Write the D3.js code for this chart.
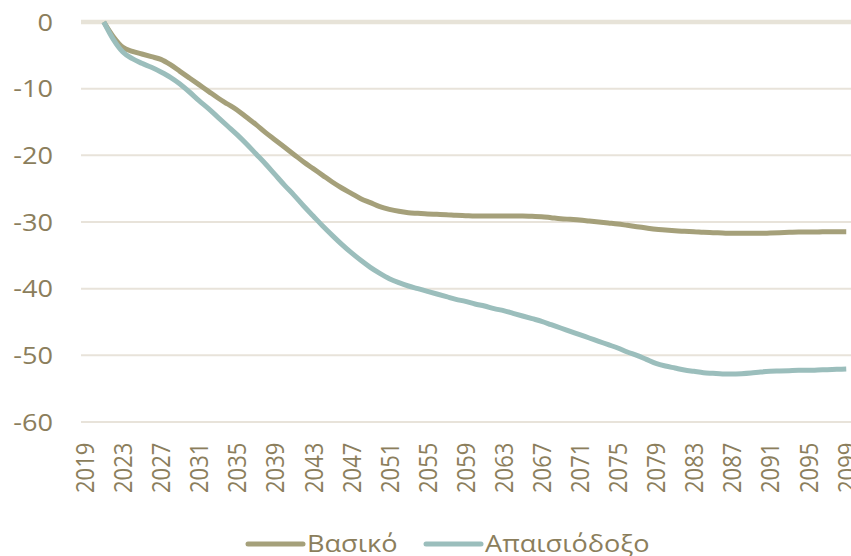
<!DOCTYPE html>
<html>
<head>
<meta charset="utf-8">
<script src="https://cdn.jsdelivr.net/npm/d3@7"></script>
<style>
  html, body { margin: 0; padding: 0; background: #ffffff; }
  svg { display: block; font-family: "Open Sans", "Noto Sans", sans-serif; }
</style>
</head>
<body>
<svg id="chart" width="851" height="556"></svg>
<script>
// ---- Data ----
const years = d3.range(2019, 2100);
const seriesNames = ["Βασικό", "Απαισιόδοξο"];
const yTicks = [0, -10, -20, -30, -40, -50, -60];
const xTickYears = d3.range(2019, 2100, 4);

// values for 2021..2099 (2019, 2020 empty)
const basicValues = [
  0, -2.2, -3.8, -4.4, -4.8, -5.2, -5.6, -6.4, -7.4, -8.4,
  -9.4, -10.4, -11.4, -12.3, -13.2, -14.3, -15.4, -16.6, -17.7, -18.8,
  -19.9, -21.0, -22.0, -23.0, -24.0, -24.9, -25.7, -26.5, -27.1, -27.7,
  -28.1, -28.4, -28.6, -28.7, -28.8, -28.85, -28.9, -29.0, -29.05, -29.1,
  -29.1, -29.1, -29.1, -29.1, -29.1, -29.15, -29.2, -29.35, -29.5, -29.6,
  -29.7, -29.85, -30.0, -30.15, -30.3, -30.5, -30.7, -30.9, -31.1, -31.2,
  -31.3, -31.4, -31.45, -31.55, -31.6, -31.65, -31.7, -31.7, -31.7, -31.7,
  -31.65, -31.6, -31.55, -31.5, -31.5, -31.5, -31.45, -31.45, -31.45
];
const pessimisticValues = [
  0, -2.6, -4.5, -5.5, -6.2, -6.8, -7.5, -8.3, -9.3, -10.5,
  -11.8, -13.0, -14.3, -15.6, -16.9, -18.3, -19.8, -21.3, -22.9, -24.5,
  -26.0, -27.6, -29.1, -30.6, -32.0, -33.35, -34.6, -35.75, -36.8, -37.7,
  -38.5, -39.1, -39.6, -40.0, -40.4, -40.8, -41.2, -41.6, -41.9, -42.3,
  -42.6, -43.0, -43.3, -43.7, -44.1, -44.5, -44.9, -45.4, -45.9, -46.4,
  -46.9, -47.4, -47.9, -48.4, -48.9, -49.5, -50.0, -50.6, -51.2, -51.6,
  -51.9, -52.2, -52.4, -52.6, -52.7, -52.8, -52.8, -52.75, -52.65, -52.5,
  -52.4, -52.35, -52.3, -52.25, -52.25, -52.2, -52.15, -52.1, -52.05
];
const dataStartYear = 2021;
const colors = ["#a5a07a", "#9bbebc"];

// ---- Layout ----
const svg = d3.select("#chart");
const plotLeft = 80, plotRight = 851, plotTop = 22, plotBottom = 422;
const textColor = "#8b7e5c";
const stretch = 1.18;

const x = d3.scaleBand().domain(years).range([plotLeft, plotRight]).padding(0);
const y = d3.scaleLinear().domain([-60, 0]).range([plotBottom, plotTop]);

// gridlines
const grid = svg.append("g");
grid.selectAll("line").data(yTicks).enter().append("line")
  .attr("x1", plotLeft + 1).attr("x2", plotRight)
  .attr("y1", d => y(d)).attr("y2", d => y(d))
  .attr("stroke", d => d === 0 ? "#e7e3d8" : "#e8e3da")
  .attr("stroke-width", d => d === 0 ? 4.5 : 2);

// y axis labels
const yAxis = d3.axisLeft(y).tickValues(yTicks).tickSize(0).tickPadding(0).tickFormat(d => String(d));
const yg = svg.append("g").attr("transform", "translate(53,0)").call(yAxis);
yg.select(".domain").remove();
yg.selectAll("text").attr("fill", textColor).style("font-size", "23px")
  .style("font-family", '"Open Sans", sans-serif').attr("dy", "0.36em")
  .attr("x", 0).attr("transform", `scale(${stretch},1)`);

// x axis labels
const xAxis = d3.axisBottom(x).tickValues(xTickYears).tickSize(0).tickPadding(0);
const xg = svg.append("g").attr("transform", "translate(0,493)").call(xAxis);
xg.select(".domain").remove();
xg.selectAll("text").attr("fill", textColor).style("font-size", "22px")
  .style("font-family", '"Open Sans", sans-serif')
  .attr("transform", `scale(${stretch},1) rotate(-90)`)
  .attr("text-anchor", "start")
  .attr("x", 0).attr("y", 0).attr("dy", "0.36em");

// lines
const seriesValues = [basicValues, pessimisticValues];
const line = d3.line()
  .x(d => x(d.year) + x.bandwidth() / 2)
  .y(d => y(d.value))
  .curve(d3.curveMonotoneX);

seriesValues.forEach((vals, i) => {
  const pts = vals.map((v, k) => ({ year: dataStartYear + k, value: v }));
  svg.append("path").datum(pts)
    .attr("d", line)
    .attr("fill", "none")
    .attr("stroke", colors[i])
    .attr("stroke-width", 5);
});

// legend
const legendItems = [
  { name: seriesNames[0], color: colors[0], x0: 248 },
  { name: seriesNames[1], color: colors[1], x0: 426 }
];
const lg = svg.append("g");
legendItems.forEach(it => {
  lg.append("line")
    .attr("x1", it.x0).attr("x2", it.x0 + 55)
    .attr("y1", 544).attr("y2", 544)
    .attr("stroke", it.color).attr("stroke-width", 5).attr("stroke-linecap", "round");
  lg.append("text")
    .attr("transform", `translate(${it.x0 + 59},544) scale(${stretch},1)`)
    .attr("dy", "0.36em")
    .attr("fill", textColor)
    .style("font-size", "23px")
    .text(it.name);
});
</script>
</body>
</html>
